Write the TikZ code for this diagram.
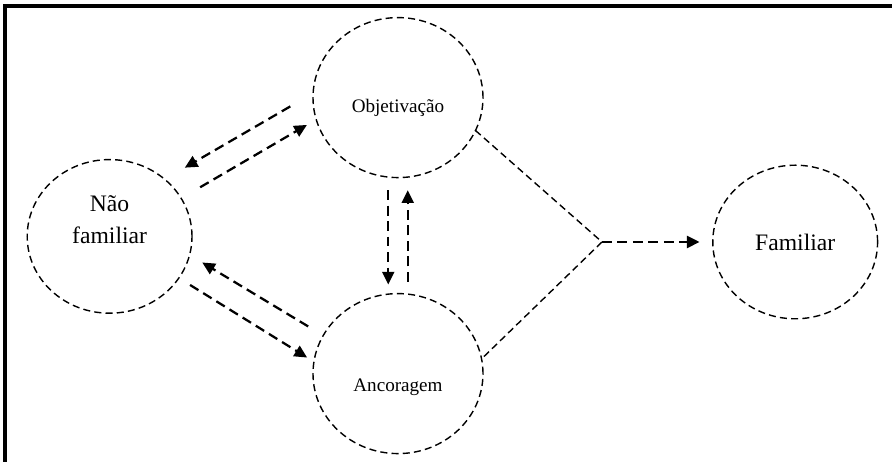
\documentclass[tikz,border=0pt]{standalone}
\usepackage{fontspec}
\setmainfont{Liberation Serif}
\usetikzlibrary{shapes.geometric, arrows.meta}
\tikzset{etapa/.style={draw,ellipse,line width=1pt,dash pattern=on 5pt off 3pt,minimum width=4.25cm,minimum height=4cm,inner sep=0pt,outer sep=0pt},
         etapa menor/.style={etapa,minimum width=4.12cm,minimum height=3.84cm},
         seta/.style={-{Triangle[length=9pt,width=8.5pt]},line width=1.6pt,dash pattern=on 7pt off 4pt},
         ligacao/.style={line width=1pt,dash pattern=on 5pt off 3pt},
         moldura/.style={line width=2.2pt},
         texto grande/.style={font=\fontsize{16.8}{22.7}\selectfont},
         texto pequeno/.style={font=\fontsize{13.6}{16}\selectfont},
        }

\begin{document}
\begin{tikzpicture}
        \useasboundingbox (0,0) rectangle (22.3,11.55);
        \draw[moldura](0.125,0)--(0.125,11.4)--(22.3,11.4);

        \node[etapa,label={[texto pequeno,yshift=-0.27cm]center:Objetivação}](obj)at(9.95,9.11){};
        \node[etapa,label={[texto pequeno,yshift=-0.33cm]center:Ancoragem}](anc)at(9.95,2.21){};
        \node[etapa menor,label={[texto grande,align=center,yshift=0.41cm]center:Não\\familiar}](naofam)at(2.74,5.64){};
        \node[etapa menor,label={[texto grande]center:Familiar}](fam)at(19.88,5.5){};
        \coordinate (juncao) at (15.05,5.5);

        \draw[seta,shorten <=0.66cm,shorten >=0.58cm](obj.177)--(naofam.46);
        \draw[seta,shorten <=0.55cm,shorten >=0.27cm](naofam.28)--(obj.195);
        \draw[seta,shorten <=0.33cm,shorten >=0.24cm](obj.263)--(anc.97);
        \draw[seta,shorten <=0.31cm,shorten >=0.33cm](anc.83)--(obj.277);
        \draw[seta,shorten <=0.44cm,shorten >=0.37cm](anc.153)--(naofam.347);
        \draw[seta,shorten <=0.33cm,shorten >=0.2cm](naofam.329)--(anc.172);

        \draw[ligacao](obj.337)--(juncao)--(anc.10);
        \draw[seta,shorten >=0.33cm](juncao)--(fam.west);
\end{tikzpicture}
\end{document}
